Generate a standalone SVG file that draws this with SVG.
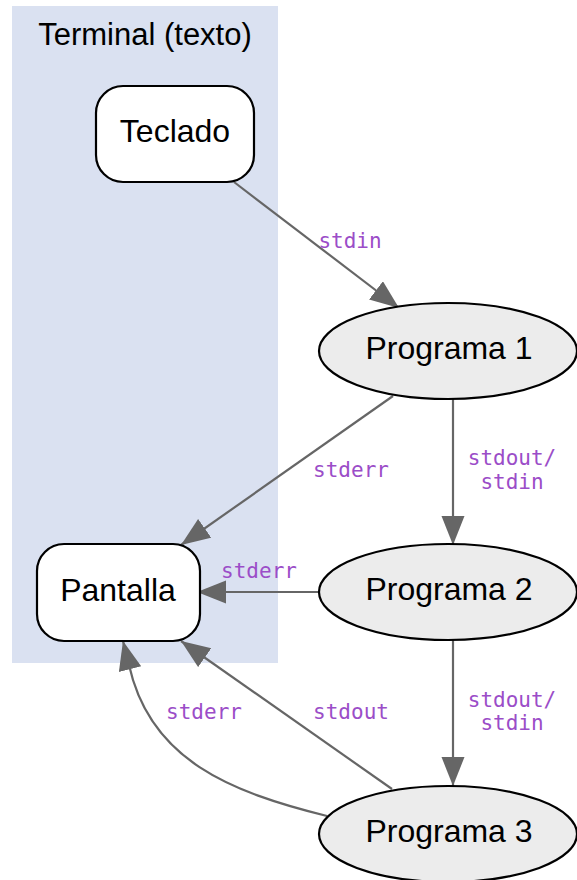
<svg xmlns="http://www.w3.org/2000/svg" width="577" height="880" viewBox="0 0 577 880">
<style>
.node{font-family:"Liberation Sans",Arial,sans-serif;font-size:32px;fill:#000;text-anchor:middle}
.box{fill:#fff;stroke:#000;stroke-width:2.2}
.ell{fill:#ececec;stroke:#000;stroke-width:2.2}
.edge{fill:none;stroke:#666;stroke-width:2.2}
.lbl{font-family:"DejaVu Sans Mono",monospace;font-size:21px;fill:#9b4dc8;text-anchor:middle}
</style>
<defs>
<marker id="ah" markerUnits="userSpaceOnUse" markerWidth="30" markerHeight="24" refX="29" refY="11.5" orient="auto" viewBox="0 0 30 24">
<path d="M0,0 L29,11.5 L0,23 z" fill="#666"/>
</marker>
</defs>
<g id="cluster_terminal">
<rect x="12" y="6" width="266" height="657" fill="#dae1f1"/>
<text class="node" x="145" y="45" style="font-size:31px">Terminal (texto)</text>
</g>
<g id="edges">
<path class="edge" d="M234,182 L399,308" marker-end="url(#ah)"/>
<text class="lbl" x="350" y="248">stdin</text>
<path class="edge" d="M453,399 L453,545" marker-end="url(#ah)"/>
<text class="lbl" x="512" y="465">stdout/</text>
<text class="lbl" x="512" y="489">stdin</text>
<path class="edge" d="M393,396 L181,545" marker-end="url(#ah)"/>
<text class="lbl" x="351" y="477">stderr</text>
<path class="edge" d="M320,592 L197,592" marker-end="url(#ah)"/>
<text class="lbl" x="259" y="578">stderr</text>
<path class="edge" d="M453,640 L453,786" marker-end="url(#ah)"/>
<text class="lbl" x="512" y="707">stdout/</text>
<text class="lbl" x="512" y="730">stdin</text>
<path class="edge" d="M392,789 L181,641" marker-end="url(#ah)"/>
<text class="lbl" x="351" y="719">stdout</text>
<path class="edge" d="M327,816 C230,792 150,760 129,665 L123,641" marker-end="url(#ah)"/>
<text class="lbl" x="204" y="719">stderr</text>
</g>
<g id="teclado">
<rect class="box" x="96" y="86" width="158" height="96" rx="27" ry="27"/>
<text class="node" x="175" y="142">Teclado</text>
</g>
<g id="pantalla">
<rect class="box" x="37" y="544" width="163" height="97" rx="27" ry="27"/>
<text class="node" x="118" y="601">Pantalla</text>
</g>
<g id="programa1">
<ellipse class="ell" cx="448" cy="351" rx="129" ry="48"/>
<text class="node" x="449" y="359">Programa 1</text>
</g>
<g id="programa2">
<ellipse class="ell" cx="448" cy="592" rx="129" ry="48"/>
<text class="node" x="449" y="600">Programa 2</text>
</g>
<g id="programa3">
<ellipse class="ell" cx="448" cy="834" rx="129" ry="48"/>
<text class="node" x="449" y="842">Programa 3</text>
</g>
</svg>
